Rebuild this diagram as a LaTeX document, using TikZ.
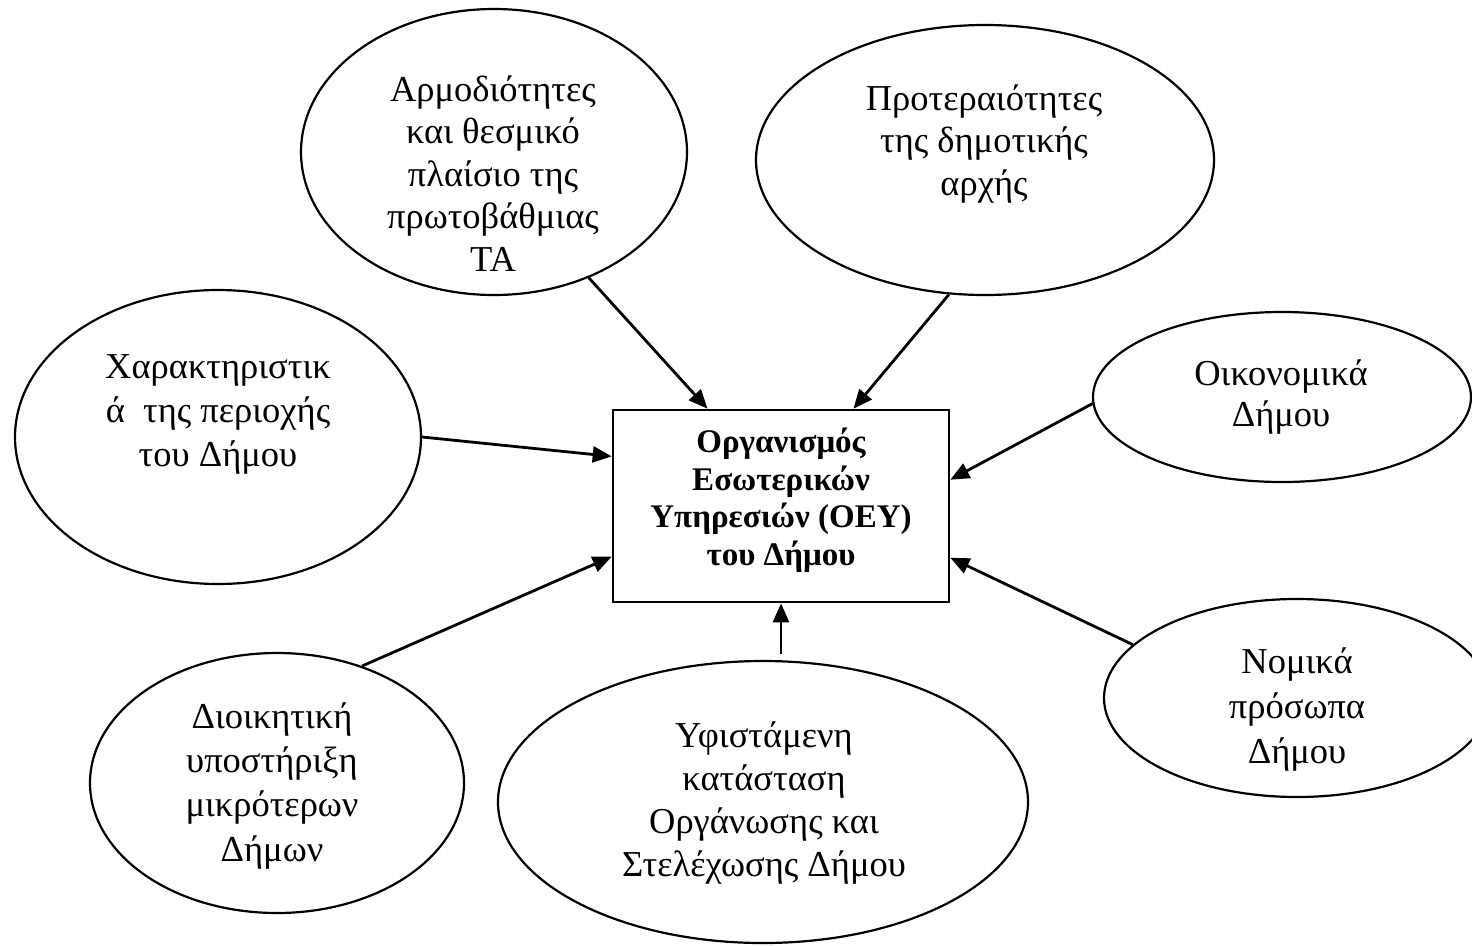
\documentclass[tikz,border=0pt]{standalone}
\usepackage{fontspec}
\setmainfont{Liberation Serif}
\usetikzlibrary{arrows.meta,calc,shapes.geometric}
\begin{document}
\begin{tikzpicture}[x=1pt,y=-1pt,
  oval/.style={draw,line width=2.2pt,ellipse,inner sep=0pt},
  lbl/.style={align=center,anchor=base,inner sep=0pt,font=\fontsize{36.5pt}{42.5pt}\selectfont},
  arr/.style={line width=2.8pt,-{Triangle[length=19pt,width=16pt]}},
  centre/.style={draw,line width=2.6pt,rectangle,inner sep=0pt,minimum width=336pt,minimum height=192pt},
]
\useasboundingbox (0,0) rectangle (1472,945);
\fill[white] (0,0) rectangle (1472,945);
\clip (0,0) rectangle (1472,945);

% ellipses
\node[oval,minimum width=386pt,minimum height=286pt] (E1) at (494,152) {};
\node[oval,minimum width=458pt,minimum height=270pt] (E2) at (985,160) {};
\node[oval,minimum width=406pt,minimum height=294pt] (E3) at (218,437) {};
\node[oval,minimum width=378pt,minimum height=170pt] (E4) at (1282,397) {};
\node[oval,minimum width=386pt,minimum height=198pt] (E5) at (1297,698) {};
\node[oval,minimum width=374pt,minimum height=260pt] (E6) at (277,783) {};
\node[oval,minimum width=530pt,minimum height=282pt] (E7) at (763,802) {};

% central box
\node[centre] (box) at (781,506) {};

% labels (anchored at the baseline of the last line)
\node[lbl] (t1) at (493,271) {Αρμοδιότητες\\και θεσμικό\\πλαίσιο της\\πρωτοβάθμιας\\ΤΑ};
\node[lbl] (t2) at (984,195) {Προτεραιότητες\\της δημοτικής\\αρχής};
\node[lbl,font=\fontsize{36.5pt}{44pt}\selectfont] (t3) at (218,466) {Χαρακτηριστικ\\ά\ \ της περιοχής\\του Δήμου};
\node[lbl,font=\fontsize{36.5pt}{41pt}\selectfont] (t4) at (1281,426) {Οικονομικά\\Δήμου};
\node[lbl,font=\fontsize{36.5pt}{45pt}\selectfont] (t5) at (1297,763) {Νομικά\\πρόσωπα\\Δήμου};
\node[lbl,font=\fontsize{36.5pt}{44.3pt}\selectfont] (t6) at (272,861) {Διοικητική\\υποστήριξη\\μικρότερων\\Δήμων};
\node[lbl,font=\fontsize{36.5pt}{43pt}\selectfont] (t7) at (764,876) {Υφιστάμενη\\κατάσταση\\Οργάνωσης και\\Στελέχωσης Δήμου};
\node[lbl,font=\fontsize{33pt}{37.5pt}\selectfont\bfseries] (tb) at (781,565) {Οργανισμός\\Εσωτερικών\\Υπηρεσιών (ΟΕΥ)\\του Δήμου};

% connectors
\draw[arr] (E1.-53) -- ($(box.north west)!0.283!(box.north east)$);
\draw[arr] (E2.-105) -- ($(box.north west)!0.714!(box.north east)$);
\draw[arr] (E3.0) -- ($(box.north west)!0.245!(box.south west)$);
\draw[arr] (E4.182) -- ($(box.north east)!0.365!(box.south east)$);
\draw[arr] (E6.54) -- ($(box.north west)!0.76!(box.south west)$);
\draw[arr] ($(E7.north -| box.south)+(0,-6)$) -- (box.south);
\draw[arr] (E5.162) -- ($(box.north east)!0.766!(box.south east)$);
\end{tikzpicture}
\end{document}
